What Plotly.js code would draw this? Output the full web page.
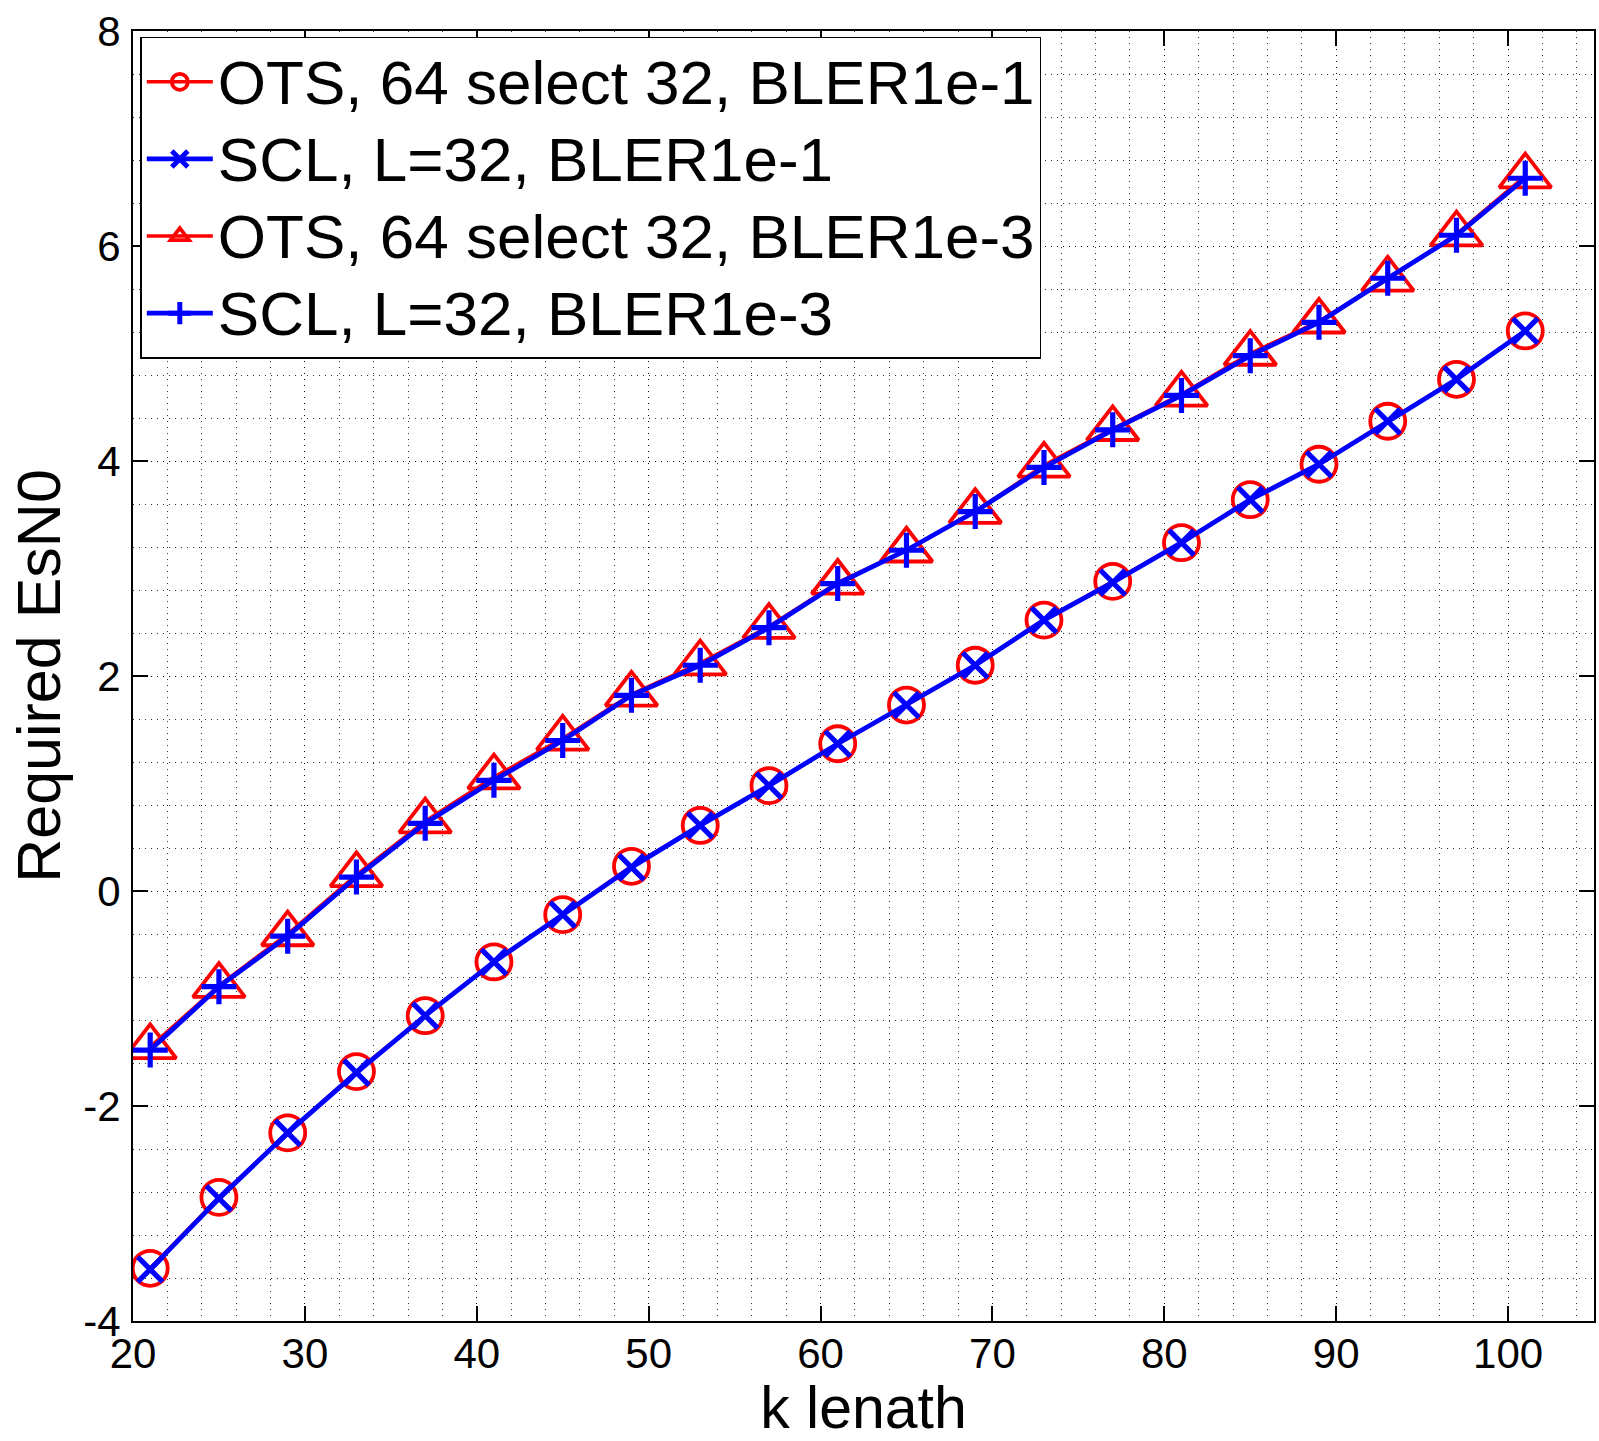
<!DOCTYPE html>
<html>
<head>
<meta charset="utf-8">
<script src="https://cdn.plot.ly/plotly-3.0.1.min.js"></script>
<style>
  html, body { margin: 0; padding: 0; background: #ffffff; }
  #chart { width: 1599px; height: 1441px; }
</style>
</head>
<body>
<div id="chart"></div>
<script>
// Information block length k
const kLength = [21, 25, 29, 33, 37, 41, 45, 49, 53, 57, 61, 65, 69, 73, 77, 81, 85, 89, 93, 97, 101];

// Required Es/N0 (dB) at BLER 1e-1
const otsBler1 = [-3.51, -2.85, -2.25, -1.68, -1.16, -0.66, -0.22, 0.23, 0.61, 0.98, 1.37, 1.73, 2.10, 2.52, 2.88, 3.24, 3.64, 3.97, 4.37, 4.76, 5.21];
const sclBler1 = [-3.52, -2.86, -2.25, -1.69, -1.16, -0.66, -0.22, 0.22, 0.61, 0.98, 1.37, 1.73, 2.10, 2.52, 2.87, 3.24, 3.64, 3.97, 4.37, 4.76, 5.21];

// Required Es/N0 (dB) at BLER 1e-3
const otsBler3 = [-1.45, -0.88, -0.40, 0.15, 0.65, 1.06, 1.42, 1.83, 2.12, 2.46, 2.87, 3.17, 3.53, 3.96, 4.30, 4.62, 5.00, 5.30, 5.69, 6.11, 6.65];
const sclBler3 = [-1.48, -0.89, -0.42, 0.13, 0.63, 1.03, 1.40, 1.82, 2.10, 2.45, 2.86, 3.17, 3.53, 3.94, 4.29, 4.61, 4.98, 5.29, 5.70, 6.10, 6.63];

const seriesNames = [
  'OTS, 64 select 32, BLER1e-1',
  'SCL, L=32, BLER1e-1',
  'OTS, 64 select 32, BLER1e-3',
  'SCL, L=32, BLER1e-3'
];

const xTicks = [20, 30, 40, 50, 60, 70, 80, 90, 100];
const yTicks = [-4, -2, 0, 2, 4, 6, 8];

const RED = '#ff0000';
const BLUE = '#0000ff';

// legend rows keep a compact line pitch while the entry text is set larger
const legendLabel = name => '<span style="font-size:62px">' + name + '</span>';

function series(name, y, color, symbol, size, lineWidth, markerLineWidth) {
  return {
    type: 'scatter',
    mode: 'lines+markers',
    name: legendLabel(name),
    x: kLength,
    y: y,
    line: { color: color, width: lineWidth },
    marker: {
      symbol: symbol,
      size: size,
      color: color,
      line: { color: color, width: markerLineWidth }
    },
    hovertemplate: name + '<br>k=%{x}<br>EsN0=%{y}<extra></extra>'
  };
}

const traces = [
  series(seriesNames[0], otsBler1, RED, 'circle-open', 35, 3.5, 3.8),
  series(seriesNames[1], sclBler1, BLUE, 'x-thin-open', 25, 4.8, 5.2),
  series(seriesNames[2], otsBler3, RED, 'triangle-up-open', 45, 3.5, 3.8),
  series(seriesNames[3], sclBler3, BLUE, 'cross-thin-open', 25, 4.8, 5.2)
];

const DOTS = '1.4px,4.6px';
const GRID = 'rgba(0,0,0,0.8)';

const axisCommon = {
  ticks: 'inside',
  ticklen: 15,
  tickwidth: 1.5,
  tickcolor: '#000',
  mirror: 'ticks',
  showline: true,
  linewidth: 2,
  linecolor: '#000',
  showgrid: true,
  gridcolor: GRID,
  gridwidth: 1.3,
  griddash: DOTS,
  zeroline: false,
  tickfont: { size: 42, color: '#000' }
};

const layout = {
  width: 1599,
  height: 1441,
  margin: { l: 133, r: 5, t: 31, b: 120, pad: 0 },
  paper_bgcolor: '#ffffff',
  plot_bgcolor: '#ffffff',
  font: { family: '"Liberation Sans", Arial, Helvetica, sans-serif', color: '#000' },
  showlegend: true,
  legend: {
    x: 0.005, y: 0.9955, xanchor: 'left', yanchor: 'top',
    bgcolor: '#ffffff', bordercolor: '#000', borderwidth: 1.5,
    font: { size: 57, color: '#000' },
    itemwidth: 66
  },
  xaxis: Object.assign({}, axisCommon, {
    range: [20, 105],
    tickmode: 'array',
    tickvals: xTicks,
    ticktext: xTicks.map(String),
    ticklabelstandoff: -5,
    minor: { dtick: 2, tick0: 0, showgrid: true, gridcolor: GRID, gridwidth: 1.3, griddash: DOTS },
    title: { text: 'k lenath', font: { size: 59, color: '#000' }, standoff: 16 }
  }),
  yaxis: Object.assign({}, axisCommon, {
    range: [-4, 8],
    tickmode: 'array',
    tickvals: yTicks,
    ticktext: yTicks.map(String),
    ticklabelstandoff: 2,
    minor: { dtick: 0.4, tick0: 0, showgrid: true, gridcolor: GRID, gridwidth: 1.3, griddash: DOTS },
    title: { text: 'Required EsN0', font: { size: 61, color: '#000' }, standoff: 3 }
  })
};

Plotly.newPlot('chart', traces, layout, { displayModeBar: false, responsive: false });
</script>
</body>
</html>
